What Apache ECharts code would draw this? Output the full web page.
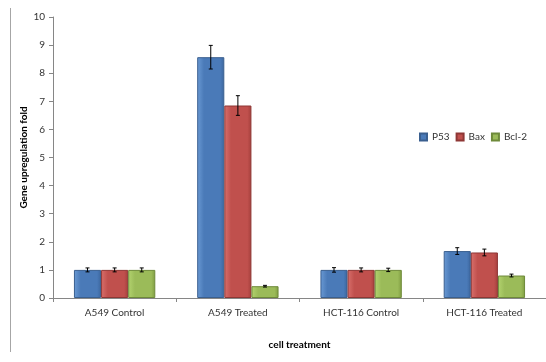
<!DOCTYPE html>
<html><head><meta charset="utf-8">
<script src="https://cdn.jsdelivr.net/npm/echarts@6/dist/echarts.min.js"></script>
<style>html,body{margin:0;padding:0;background:#fff}#c{width:546px;height:362px}</style>
</head><body><div id="c"></div>
<script>
const categories = ['A549 Control', 'A549 Treated', 'HCT-116 Control', 'HCT-116 Treated'];
const seriesNames = ['P53', 'Bax', 'Bcl-2'];
const p53 = [1.0, 8.57, 1.0, 1.67];
const bax = [1.0, 6.85, 1.0, 1.62];
const bcl2 = [1.0, 0.42, 1.0, 0.80];
const p53Err = [0.07, 0.42, 0.08, 0.12];
const baxErr = [0.07, 0.35, 0.07, 0.12];
const bcl2Err = [0.07, 0.03, 0.06, 0.05];
const yTicks = [0, 1, 2, 3, 4, 5, 6, 7, 8, 9, 10];

const values = [p53, bax, bcl2];
const errors = [p53Err, baxErr, bcl2Err];
const fills = [['#6a9ad4', '#4a7ab8', '#3c669e'], ['#d9706c', '#c0504d', '#a43f3c'], ['#b3d36f', '#9bbb59', '#7f9c41']];
const borders = ['#3a5f8f', '#8e3735', '#6e8a3a'];

const chart = echarts.init(document.getElementById('c'));
const font = 'Lato, "Open Sans", sans-serif';
const nGroups = 3;
const barSeries = values.map((v, i) => ({
  name: seriesNames[i], type: 'bar', data: v,
  barGap: '0%', barCategoryGap: '34%',
  itemStyle: {
    color: new echarts.graphic.LinearGradient(0, 0, 1, 0, [
      {offset: 0, color: fills[i][0]}, {offset: 0.25, color: fills[i][1]},
      {offset: 0.85, color: fills[i][1]}, {offset: 1, color: fills[i][2]}]),
    borderColor: borders[i], borderWidth: 1
  }
}));
const errSeries = values.map((v, i) => ({
  type: 'custom', name: seriesNames[i] + ' err', silent: true, z: 5,
  data: v.map((val, k) => [k, val - errors[i][k], val + errors[i][k]]),
  renderItem: function (params, api) {
    const k = api.value(0);
    const lo = api.coord([k, api.value(1)]);
    const hi = api.coord([k, api.value(2)]);
    const bw = api.size([1, 0])[0];
    const groupW = bw * (1 - 0.34);
    const each = groupW / nGroups;
    const x = lo[0] - groupW / 2 + each * (i + 0.5);
    const cap = 2;
    const st = {stroke: '#000', lineWidth: 1};
    return {type: 'group', children: [
      {type: 'line', shape: {x1: x, y1: lo[1], x2: x, y2: hi[1]}, style: st},
      {type: 'line', shape: {x1: x - cap, y1: lo[1], x2: x + cap, y2: lo[1]}, style: st},
      {type: 'line', shape: {x1: x - cap, y1: hi[1], x2: x + cap, y2: hi[1]}, style: st}
    ]};
  }
}));

chart.setOption({
  animation: false,
  backgroundColor: '#fff',
  textStyle: {fontFamily: font},
  graphic: [{type: 'line', shape: {x1: 10.5, y1: 8, x2: 10.5, y2: 352}, style: {stroke: '#a6a6a6', lineWidth: 1}}],
  legend: {
    data: seriesNames, left: 414, top: 127, itemWidth: 7, itemHeight: 7, itemGap: 6,
    icon: 'rect', textStyle: {fontSize: 10, color: '#333', fontFamily: font}
  },
  grid: {left: 53, top: 17, width: 494, bottom: 64, containLabel: false},
  xAxis: {
    type: 'category', data: categories,
    name: 'cell treatment', nameLocation: 'middle', nameGap: 42, nameMoveOverlap: false,
    nameTextStyle: {fontWeight: 'bold', fontSize: 10, color: '#000', fontFamily: font},
    axisLine: {lineStyle: {color: '#868686'}},
    axisTick: {show: true, alignWithLabel: false, length: 4, lineStyle: {color: '#868686'}},
    axisLabel: {fontSize: 10, color: '#333', margin: 10, fontFamily: font}
  },
  yAxis: {
    type: 'value', min: yTicks[0], max: yTicks[yTicks.length - 1], interval: 1,
    name: 'Gene upregulation fold', nameLocation: 'middle', nameGap: 24, nameMoveOverlap: false,
    nameTextStyle: {fontWeight: 'bold', fontSize: 10, color: '#000', fontFamily: font},
    axisLine: {show: true, lineStyle: {color: '#868686'}},
    axisTick: {show: true, length: 4, lineStyle: {color: '#868686'}},
    axisLabel: {fontSize: 10, color: '#333', margin: 8, fontFamily: font},
    splitLine: {show: false}
  },
  series: barSeries.concat(errSeries)
});
</script></body></html>
